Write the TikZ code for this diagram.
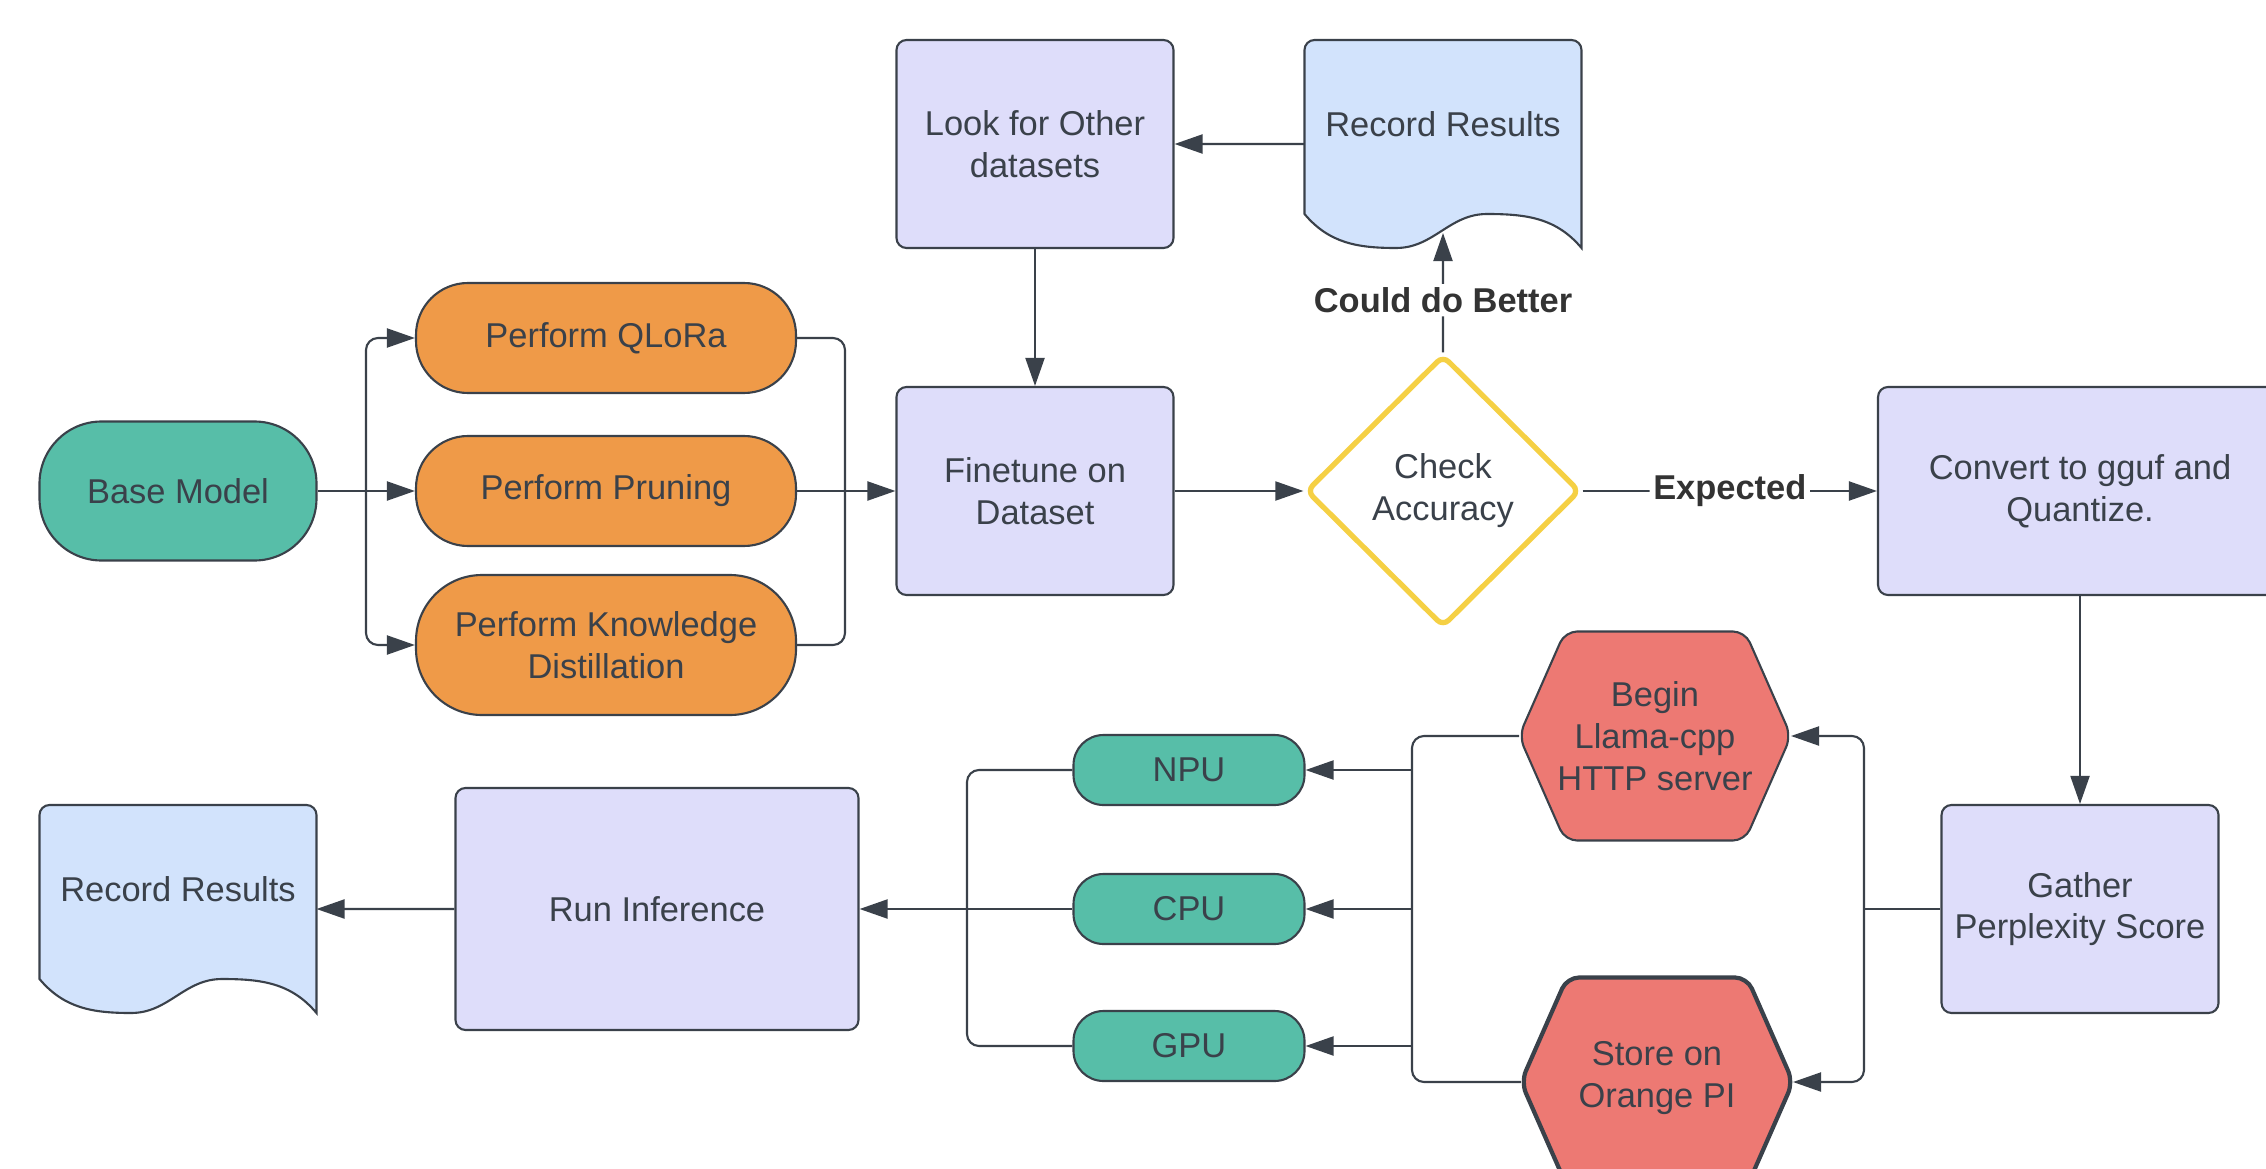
\documentclass[tikz,border=0pt]{standalone}
\usepackage{fontspec}
\setmainfont{Liberation Sans}
\usetikzlibrary{shapes.geometric, arrows.meta, positioning}

\definecolor{linegray}{HTML}{3A414A}
\definecolor{textgray}{HTML}{3A414A}
\definecolor{labelgray}{HTML}{333333}
\definecolor{termgreen}{HTML}{57BEA8}
\definecolor{procorange}{HTML}{EF9A48}
\definecolor{boxlilac}{HTML}{DEDDFA}
\definecolor{docblue}{HTML}{D2E3FC}
\definecolor{hexred}{HTML}{ED7973}
\definecolor{diayellow}{HTML}{F5D044}

\tikzset{
	box/.style = {draw=linegray, fill=boxlilac, rounded corners=0.1cm,
		minimum width=2.77cm, minimum height=2.08cm, align=center},
	term/.style = {draw=linegray, fill=termgreen, rounded corners=0.62cm,
		minimum width=2.77cm, minimum height=1.39cm, align=center},
	perform/.style = {draw=linegray, fill=procorange, rounded corners=0.52cm,
		minimum width=3.8cm, minimum height=1.1cm, align=center},
	chip/.style = {draw=linegray, fill=termgreen, rounded corners=0.3cm,
		minimum width=2.31cm, minimum height=0.7cm},
	decision/.style = {diamond, draw=diayellow, fill=white, line width=1.5pt,
		rounded corners=0.08cm, minimum width=2.74cm, minimum height=2.72cm, align=center},
	wire/.style = {draw=linegray, rounded corners=0.12cm},
	arr/.style = {wire, -{Triangle[length=0.28cm, width=0.19cm]}},
	lbl/.style = {fill=white, inner sep=1pt, text=labelgray,
		font=\fontsize{9.8}{11.9}\selectfont\bfseries},
	document/.pic = {
		\draw [draw=linegray, fill=docblue]
			(-1.385, -0.7) -- (-1.385, 0.94) arc [start angle=180, end angle=90, radius=0.1]
			-- (1.285, 1.04) arc [start angle=90, end angle=0, radius=0.1]
			-- (1.385, -1.04)
			to [out=130, in=0] (0.44, -0.70)
			to [out=180, in=0] (-0.47, -1.04)
			to [out=180, in=-50] (-1.385, -0.7) -- cycle;
	},
	hexagon/.pic = {
		\draw [draw=linegray, fill=hexred, rounded corners=0.12cm]
			(-1.36, 0) -- (-0.9, 1.045) -- (0.9, 1.045) -- (1.36, 0)
			-- (0.9, -1.045) -- (-0.9, -1.045) -- cycle;
	}
}

\begin{document}
\begin{tikzpicture}[line width=0.6pt,
		every node/.append style={font=\fontsize{9.8}{11.9}\selectfont, text=textgray}]
	% top row
	\node [term] (base) at (1.78, 6.77) {Base Model};
	\node [perform] (qlora) at (6.06, 8.30) {Perform QLoRa};
	\node [perform] (prune) at (6.06, 6.77) {Perform Pruning};
	\node [perform, minimum height=1.4cm, rounded corners=0.66cm] (kd) at (6.06, 5.23) {Perform Knowledge\\Distillation};
	\node [box] (look) at (10.35, 10.24) {Look for Other\\datasets};
	\node [box] (finetune) at (10.35, 6.77) {Finetune on\\Dataset};
	\pic [local bounding box=rec1] at (14.43, 10.24) {document};
	\node (rec1txt) at ([yshift=0.2cm]rec1.center) {Record Results};
	\node [decision] (check) at (14.43, 6.77) {Check\\Accuracy};
	\node [box, minimum width=4.04cm] (convert) at (20.80, 6.77) {Convert to gguf and\\Quantize.};
	% bottom row
	\node [box] (gather) at (20.80, 2.59) {Gather\\Perplexity Score};
	\pic [local bounding box=begin] at (16.55, 4.32) {hexagon};
	\node [align=center] (begintxt) at (begin.center) {Begin\\Llama-cpp\\HTTP server};
	\pic [local bounding box=store, line width=1.2pt] at (16.57, 0.86) {hexagon};
	\node [align=center] (storetxt) at ([yshift=0.04cm]store.center) {Store on\\Orange PI};
	\node [chip] (npu) at (11.89, 3.98) {NPU};
	\node [chip] (cpu) at (11.89, 2.59) {CPU};
	\node [chip] (gpu) at (11.89, 1.22) {GPU};
	\node [box, minimum width=4.03cm, minimum height=2.42cm] (run) at (6.57, 2.59) {Run Inference};
	\pic [local bounding box=rec2] at (1.78, 2.59) {document};
	\node (rec2txt) at ([yshift=0.2cm]rec2.center) {Record Results};
	% junctions
	\coordinate (split1) at (3.66, 6.77);
	\coordinate (merge1) at (8.45, 6.77);
	\coordinate (split2) at (18.64, 2.59);
	\coordinate (bus2) at (14.12, 2.59);
	\coordinate (bus3) at (9.67, 2.59);
	% connectors
	\draw [wire] (base) -- (split1);
	\draw [arr] (split1) |- (qlora);
	\draw [arr] (split1) -- (prune);
	\draw [arr] (split1) |- (kd);
	\draw [wire] (qlora) -| (merge1);
	\draw [wire] (kd) -| (merge1);
	\draw [wire] (prune) -- (merge1);
	\draw [arr] (merge1) -- (finetune);
	\draw [arr] (look) -- (finetune);
	\draw [arr] (rec1) -- (look);
	\draw [arr] (finetune) -- (check);
	\draw [arr, shorten >=-0.15cm] (check) -- node [lbl] {Could do Better} (rec1);
	\draw [arr] (check) -- node [lbl] {Expected} (convert);
	\draw [arr] (convert) -- (gather);
	\draw [wire] (gather) -- (split2);
	\draw [arr] (split2) |- (begin);
	\draw [arr] (split2) |- (store);
	\draw [wire] (begin) -| (bus2) |- (store);
	\draw [arr] (bus2 |- npu) -- (npu);
	\draw [arr] (bus2) -- (cpu);
	\draw [arr] (bus2 |- gpu) -- (gpu);
	\draw [wire] (npu) -| (bus3) |- (gpu);
	\draw [arr] (cpu) -- (run);
	\draw [arr] (run) -- (rec2);
	% page size
	\pgfresetboundingbox
	\useasboundingbox (0, 0) rectangle (22.66, 11.68);
\end{tikzpicture}
\end{document}
